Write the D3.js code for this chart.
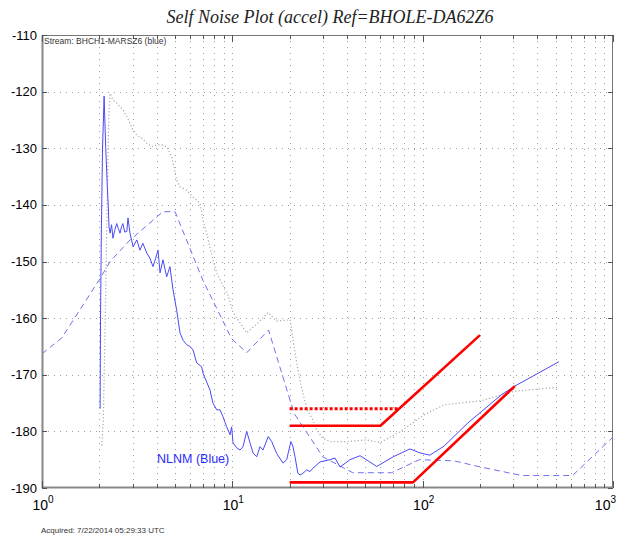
<!DOCTYPE html>
<html>
<head>
<meta charset="utf-8">
<script src="https://cdn.jsdelivr.net/npm/d3@7"></script>
<style>
  html, body { margin: 0; padding: 0; background: #fff; }
  svg { display: block; font-family: "Liberation Sans", Arial, sans-serif; }
</style>
</head>
<body>
<svg id="chart" width="617" height="537"></svg>
<script>
// Frequency (Hz) / power (dB) pairs for each trace
const streamNoise = [
  [2.02,-176],[2.03,-160],[2.05,-145],[2.08,-130],[2.12,-120.8],[2.16,-129.7],[2.20,-136.2],
  [2.23,-140.3],[2.25,-143.9],[2.28,-145],[2.32,-143.5],[2.36,-145.9],[2.41,-144.5],[2.47,-143.3],
  [2.52,-144.2],[2.57,-145],[2.62,-143.8],[2.66,-143.3],[2.72,-144.8],[2.79,-144.7],[2.83,-142.3],
  [2.90,-145],[3.01,-147.4],[3.15,-146.2],[3.27,-148],[3.39,-146.8],[3.55,-148.5],[3.69,-149.4],
  [3.83,-150.9],[3.95,-149.5],[4.07,-148],[4.17,-152],[4.32,-149.7],[4.52,-152.7],[4.70,-150.9],
  [4.88,-155],[5.10,-158.6],[5.31,-162.6],[5.51,-163.9],[5.76,-164.7],[5.99,-165],[6.21,-165.6],
  [6.50,-167.9],[6.90,-168.6],[7.01,-169.7],[7.63,-172.7],[7.91,-175],[8.28,-176.2],[8.61,-176.2],
  [8.93,-177.4],[9.34,-179.2],[9.72,-180.6],[9.92,-179.2],[10.08,-182],[10.54,-182.9],[10.97,-183.3],
  [11.38,-182.7],[11.9,-180],[12.38,-182],[12.85,-183.8],[13.43,-184.5],[13.98,-182.7],[14.49,-183.3],
  [15.45,-180.9],[16.1,-181.8],[17.1,-183.9],[18.46,-185.6],[19.3,-185],[20.3,-181.8],[20.8,-182.6],
  [21.35,-184.5],[22.1,-187.4],[22.7,-187.7],[23.5,-187.4],[24.6,-186.8],[25.6,-187.1],[26.5,-186.5],
  [28.9,-185.4],[32.6,-185],[34.6,-184.7],[36.8,-186.3],[41.5,-185],[46.9,-184.3],[57.4,-186.2],
  [69.9,-184.5],[85.8,-183.1],[96.8,-183.8],[109,-184.2],[129.5,-182.6],[173,-178.5],[260,-173.5],
  [305,-172],[520,-167.7]
];

const nlnm = [
  [1,-166.3],[1.27,-163.5],[2.02,-153],[2.28,-150],[2.90,-146.2],[4.32,-141.2],[5.0,-141.2],
  [7.0,-153.3],[9.9,-163.6],[11.9,-166.1],[15.5,-162.1],[21.1,-176.8],[29.9,-184.5],[42.9,-187.3],
  [68.6,-187.3],[96,-185],[146,-185.2],[202,-186.3],[332,-187.8],[613,-187.8],[1000,-181]
];

const refNoise = [
  [2.06,-182.5],[2.1,-178],[2.15,-160],[2.2,-140],[2.24,-125],[2.28,-120.3],[2.36,-121.5],[2.47,-122],
  [2.57,-122.7],[2.66,-123.2],[2.79,-124.4],[2.90,-125.6],[3.01,-126.8],[3.15,-127.7],[3.34,-128.2],
  [3.55,-129.1],[3.77,-129.7],[4.01,-129.4],[4.26,-129.4],[4.52,-129.7],[4.80,-131.5],[5.10,-135.6],
  [5.31,-136.8],[5.76,-137.4],[6.21,-138.6],[6.76,-139.7],[7.01,-142.7],[7.33,-145],[7.91,-149.7],
  [8.28,-152],[9.15,-155],[9.5,-156],[10.08,-159],[11.9,-162.6],[13.5,-161],[15.4,-159],[17,-160.5],
  [20.1,-160.3],[21.8,-168],[23,-172],[24.6,-176],[26.5,-178],[27.8,-179.8],[29.9,-181.2],[32.6,-181.8],
  [39.9,-181.8],[50.8,-181.5],[59.7,-182],[75.7,-180.1],[101.6,-177.1],[129.5,-175.3],[202,-174.6],
  [305,-172.9],[520,-172.2]
];

// Specification limits
const specLow = [[20,-189],[89,-189],[305,-172]];
const specMid = [[20,-179],[60,-179],[200,-163]];
const specDotted = [[20,-176],[75,-176]];

const yTicks = [-110,-120,-130,-140,-150,-160,-170,-180,-190];
const xDecades = [1,10,100,1000];
const xExponents = ["0","1","2","3"];

const titleText = "Self Noise Plot (accel)  Ref=BHOLE-DA62Z6";
const streamText = "Stream: BHCH1-MARSZ6 (blue)";
const legendText = "NLNM (Blue)";
const acquiredText = "Acquired: 7/22/2014 05:29:33  UTC";

const L = 42, R = 613, T = 35, B = 488;
const svg = d3.select("#chart");
const x = d3.scaleLog().domain([1, 1000]).range([L, R]);
const y = d3.scaleLinear().domain([-190, -110]).range([B, T]);

svg.append("defs").append("clipPath").attr("id", "plotclip")
  .append("rect").attr("x", L).attr("y", T).attr("width", R - L).attr("height", B - T);

// 1..9 of every decade plus the last decade line
const minorFreqs = [];
for (const d of [1, 10, 100]) for (let k = 1; k <= 9; k++) minorFreqs.push(d * k);
minorFreqs.push(1000);

// dotted grid
const grid = svg.append("g").attr("stroke", "#a0a0a0").attr("stroke-width", 1)
  .attr("stroke-dasharray", "1,5");
grid.selectAll("line.v").data(minorFreqs.filter(f => f > 1 && f < 1000)).join("line")
  .attr("x1", d => Math.round(x(d)) + 0.5).attr("x2", d => Math.round(x(d)) + 0.5)
  .attr("y1", T).attr("y2", B);
grid.selectAll("line.h").data(yTicks.filter(v => v > -190 && v < -110)).join("line")
  .attr("x1", L).attr("x2", R)
  .attr("y1", d => Math.round(y(d)) + 0.5).attr("y2", d => Math.round(y(d)) + 0.5);

// traces
const line = d3.line().x(d => x(d[0])).y(d => y(d[1]));
const plot = svg.append("g").attr("clip-path", "url(#plotclip)");
plot.append("path").datum(refNoise).attr("d", line).attr("fill", "none")
  .attr("stroke", "#a8a8a8").attr("stroke-width", 1.2).attr("stroke-dasharray", "1.2,2.2");
plot.append("path").datum(nlnm).attr("d", line).attr("fill", "none")
  .attr("stroke", "#7070f0").attr("stroke-width", 1).attr("stroke-dasharray", "6,4");
plot.append("path").datum(streamNoise).attr("d", line).attr("fill", "none")
  .attr("stroke", "#4a4af5").attr("stroke-width", 1);
for (const s of [specLow, specMid]) {
  plot.append("path").datum(s).attr("d", line).attr("fill", "none")
    .attr("stroke", "#ff0000").attr("stroke-width", 2.6).attr("stroke-linejoin", "round");
}
plot.append("path").datum(specDotted).attr("d", line).attr("fill", "none")
  .attr("stroke", "#ff0000").attr("stroke-width", 3).attr("stroke-dasharray", "3,2");

// frame
svg.append("rect").attr("x", L + 0.5).attr("y", T + 0.5).attr("width", R - L - 1).attr("height", B - T - 1)
  .attr("fill", "none").attr("stroke", "#777").attr("stroke-width", 1);
svg.append("line").attr("x1", L + 0.5).attr("x2", L + 0.5).attr("y1", T).attr("y2", B)
  .attr("stroke", "#888").attr("stroke-width", 2);
svg.append("line").attr("x1", L).attr("x2", R).attr("y1", B - 0.5).attr("y2", B - 0.5)
  .attr("stroke", "#888").attr("stroke-width", 2);

// ticks
const ticks = svg.append("g").attr("stroke", "#555").attr("stroke-width", 1);
minorFreqs.forEach(f => {
  const len = xDecades.includes(f) ? 7 : 4;
  const px = Math.round(x(f)) + 0.5;
  ticks.append("line").attr("x1", px).attr("x2", px).attr("y1", B).attr("y2", B - len);
  ticks.append("line").attr("x1", px).attr("x2", px).attr("y1", T).attr("y2", T + len);
});
yTicks.forEach(v => {
  const py = Math.round(y(v)) + 0.5;
  ticks.append("line").attr("x1", L).attr("x2", L + 5).attr("y1", py).attr("y2", py);
  ticks.append("line").attr("x1", R).attr("x2", R - 5).attr("y1", py).attr("y2", py);
});

// y labels
svg.append("g").selectAll("text").data(yTicks).join("text")
  .attr("x", 37).attr("y", d => y(d) + 4.5).attr("text-anchor", "end")
  .attr("font-size", 13).attr("fill", "#000").text(d => d);

// x labels with exponents; the last one is kept inside the page
xDecades.forEach((d, i) => {
  const last = i === xDecades.length - 1;
  const t = svg.append("text")
    .attr("x", last ? 616 : x(d) + 1)
    .attr("y", 510)
    .attr("text-anchor", last ? "end" : "middle")
    .attr("font-size", 14).attr("fill", "#000");
  t.append("tspan").text("10");
  t.append("tspan").attr("font-size", 10).attr("dy", -7).text(xExponents[i]);
});

// title and annotations
svg.append("text").attr("x", 330).attr("y", 23).attr("text-anchor", "middle")
  .style("font-family", "'Liberation Serif', 'Times New Roman', serif").style("font-style", "italic")
  .attr("font-size", 18).attr("fill", "#222").text(titleText);
svg.append("text").attr("x", 44).attr("y", 44).attr("font-size", 8.5).attr("fill", "#333").text(streamText);
svg.append("text").attr("x", 157).attr("y", 463).attr("font-size", 12.5).attr("fill", "#2b2bff").text(legendText);
svg.append("text").attr("x", 41).attr("y", 533).attr("font-size", 8).attr("fill", "#333").text(acquiredText);
</script>
</body>
</html>
